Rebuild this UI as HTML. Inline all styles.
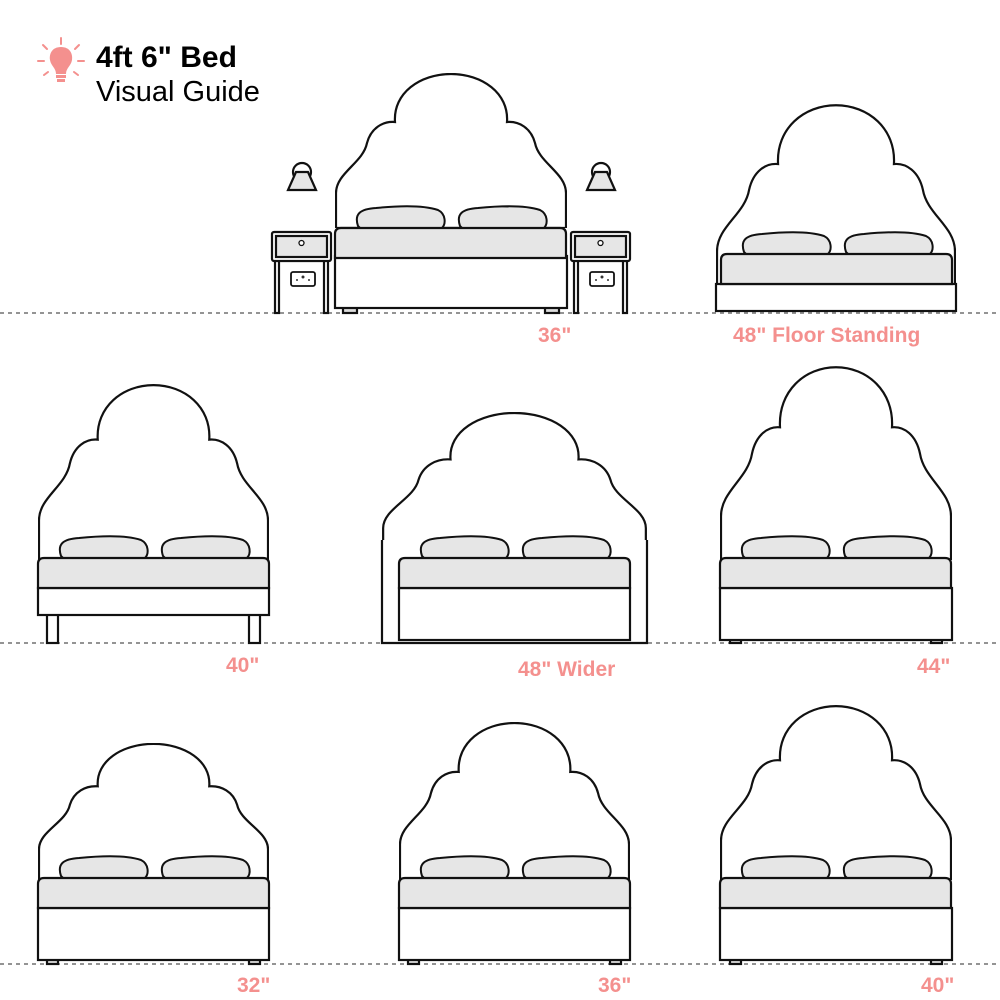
<!DOCTYPE html>
<html><head><meta charset="utf-8"><style>
html,body{margin:0;padding:0;background:#fff;}
svg{display:block;}
text{font-family:"Liberation Sans",sans-serif;}
</style></head><body>
<svg width="1000" height="1000" viewBox="0 0 1000 1000" xmlns="http://www.w3.org/2000/svg">
<defs>
<symbol id="hb" viewBox="0 0 232 155" preserveAspectRatio="none">
<path d="M1,155 L1,120 C1,100 28,90 32,70 C36,55 48,48 60,49 C58,20 85,1 116,1 C147,1 174,20 172,49 C184,48 196,55 200,70 C204,90 231,100 231,120 L231,155 Z" fill="#fff" stroke="#111" stroke-width="2.2" vector-effect="non-scaling-stroke"/>
</symbol>
<g id="pil">
<path d="M2,20 C-2,8 4,3 20,2 C50,-1 70,0 82,4 C90,8 90,18 86,22 L4,22 Z" fill="#e6e6e6" stroke="#111" stroke-width="2"/>
</g>
<g id="bed">
<use href="#pil" x="21" y="0"/>
<use href="#pil" x="123" y="0"/>
<path d="M0,52 L0,28 Q0,22 6,22 L225,22 Q231,22 231,28 L231,52 Z" fill="#e6e6e6" stroke="#111" stroke-width="2.2"/>
</g>
</defs>
<g fill="none" stroke="#111" stroke-width="2.2">
<!-- dashed floors -->
<line x1="0" y1="313" x2="1000" y2="313" stroke="#555" stroke-width="1.3" stroke-dasharray="4 4"/>
<line x1="0" y1="643" x2="1000" y2="643" stroke="#555" stroke-width="1.3" stroke-dasharray="4 4"/>
<line x1="0" y1="964" x2="1000" y2="964" stroke="#555" stroke-width="1.3" stroke-dasharray="4 4"/>
</g>

<!-- Row1 main bed -->
<use href="#hb" x="335" y="73" width="232" height="155"/>
<g stroke="#111" stroke-width="2.2">
<rect x="343" y="306" width="14" height="7" fill="#ddd"/><rect x="545" y="306" width="14" height="7" fill="#ddd"/>
<rect x="335" y="256" width="232" height="52" fill="#fff"/>
</g>
<use href="#bed" x="335" y="206"/>
<!-- nightstands -->
<g stroke="#111" stroke-width="2.2">
<rect x="275" y="260" width="4" height="53" fill="#fff"/><rect x="324" y="260" width="4" height="53" fill="#fff"/>
<rect x="272" y="232" width="59" height="29" fill="#fff" rx="2"/>
<rect x="276" y="236" width="51" height="21" fill="#e6e6e6"/>
<circle cx="301.5" cy="243" r="2.5" fill="#fff" stroke-width="1.3"/>
<rect x="291" y="272" width="24" height="14" fill="#fff" rx="2" stroke-width="1.8"/>
<rect x="574" y="260" width="4" height="53" fill="#fff"/><rect x="623" y="260" width="4" height="53" fill="#fff"/>
<rect x="571" y="232" width="59" height="29" fill="#fff" rx="2"/>
<rect x="575" y="236" width="51" height="21" fill="#e6e6e6"/>
<circle cx="600.5" cy="243" r="2.5" fill="#fff" stroke-width="1.3"/>
<rect x="590" y="272" width="24" height="14" fill="#fff" rx="2" stroke-width="1.8"/>
<!-- lamps -->
<circle cx="302" cy="172" r="9" fill="#fff"/>
<path d="M296,172 L308,172 L316,190 L288,190 Z" fill="#e6e6e6"/>
<circle cx="601" cy="172" r="9" fill="#fff"/>
<path d="M595,172 L607,172 L615,190 L587,190 Z" fill="#e6e6e6"/>
</g>
<g fill="#333"><circle cx="297" cy="280" r="1"/><circle cx="309" cy="280" r="1"/><circle cx="303" cy="277" r="1.5"/><circle cx="596" cy="280" r="1"/><circle cx="608" cy="280" r="1"/><circle cx="602" cy="277" r="1.5"/></g>

<!-- Row1 right floor standing -->
<use href="#hb" x="716" y="104" width="240" height="190"/>
<g stroke="#111" stroke-width="2.2">
<rect x="716" y="284" width="240" height="27" fill="#fff"/>
</g>
<use href="#bed" x="721" y="232"/>

<!-- Row2 left -->
<use href="#hb" x="38" y="384" width="231" height="176"/>
<g stroke="#111" stroke-width="2.2">
<rect x="47" y="612" width="11" height="31" fill="#fff"/><rect x="249" y="612" width="11" height="31" fill="#fff"/>
<rect x="38" y="588" width="231" height="27" fill="#fff"/>
</g>
<use href="#bed" x="38" y="536"/>

<!-- Row2 middle wider -->
<use href="#hb" x="382" y="412" width="265" height="150"/>
<path d="M382,540 L382,643 L647,643 L647,540" fill="#fff" stroke="#111" stroke-width="2.2"/>
<g stroke="#111" stroke-width="2.2">
<rect x="399" y="588" width="231" height="52" fill="#fff"/>
</g>
<use href="#bed" x="399" y="536"/>

<!-- Row2 right -->
<use href="#hb" x="720" y="366" width="232" height="194"/>
<g stroke="#111" stroke-width="2.2">
<rect x="730" y="636" width="11" height="7" fill="#ddd"/><rect x="931" y="636" width="11" height="7" fill="#ddd"/>
<rect x="720" y="588" width="232" height="52" fill="#fff"/>
</g>
<use href="#bed" x="720" y="536"/>

<!-- Row3 -->
<use href="#hb" x="38" y="743" width="231" height="137"/>
<g stroke="#111" stroke-width="2.2">
<rect x="47" y="958" width="11" height="6" fill="#ddd"/><rect x="249" y="958" width="11" height="6" fill="#ddd"/>
<rect x="38" y="908" width="231" height="52" fill="#fff"/>
</g>
<use href="#bed" x="38" y="856"/>

<use href="#hb" x="399" y="722" width="231" height="158"/>
<g stroke="#111" stroke-width="2.2">
<rect x="408" y="958" width="11" height="6" fill="#ddd"/><rect x="610" y="958" width="11" height="6" fill="#ddd"/>
<rect x="399" y="908" width="231" height="52" fill="#fff"/>
</g>
<use href="#bed" x="399" y="856"/>

<use href="#hb" x="720" y="705" width="232" height="175"/>
<g stroke="#111" stroke-width="2.2">
<rect x="730" y="958" width="11" height="6" fill="#ddd"/><rect x="931" y="958" width="11" height="6" fill="#ddd"/>
<rect x="720" y="908" width="232" height="52" fill="#fff"/>
</g>
<use href="#bed" x="720" y="856"/>

<!-- labels -->
<g fill="#f4908e" font-weight="bold" font-size="21">
<text x="538" y="342">36"</text>
<text x="733" y="342">48" Floor Standing</text>
<text x="226" y="672">40"</text>
<text x="518" y="676">48"  Wider</text>
<text x="917" y="673">44"</text>
<text x="237" y="992">32"</text>
<text x="598" y="992">36"</text>
<text x="921" y="992">40"</text>
</g>

<!-- title icon -->
<g stroke="#f4908e" stroke-width="2" stroke-linecap="round">
<line x1="61" y1="38" x2="61" y2="44"/>
<line x1="43" y1="45" x2="47" y2="49"/><line x1="79" y1="45" x2="75" y2="49"/>
<line x1="38" y1="61" x2="44" y2="61"/><line x1="78" y1="61" x2="84" y2="61"/>
<line x1="44" y1="75" x2="48" y2="72"/><line x1="78" y1="75" x2="74" y2="72"/>
</g>
<path d="M61,47 C52,47 49,54 50,60 C51,66 56,68 56,74 L66,74 C66,68 71,66 72,60 C73,54 70,47 61,47 Z" fill="#f4908e"/>
<rect x="56" y="75" width="10" height="3" fill="#f4908e"/><rect x="57" y="79" width="8" height="3" fill="#f4908e"/>
<text x="96" y="67" font-size="30" font-weight="bold" fill="#000">4ft 6" Bed</text>
<text x="96" y="101" font-size="29" fill="#000">Visual Guide</text>
</svg>
</body></html>
